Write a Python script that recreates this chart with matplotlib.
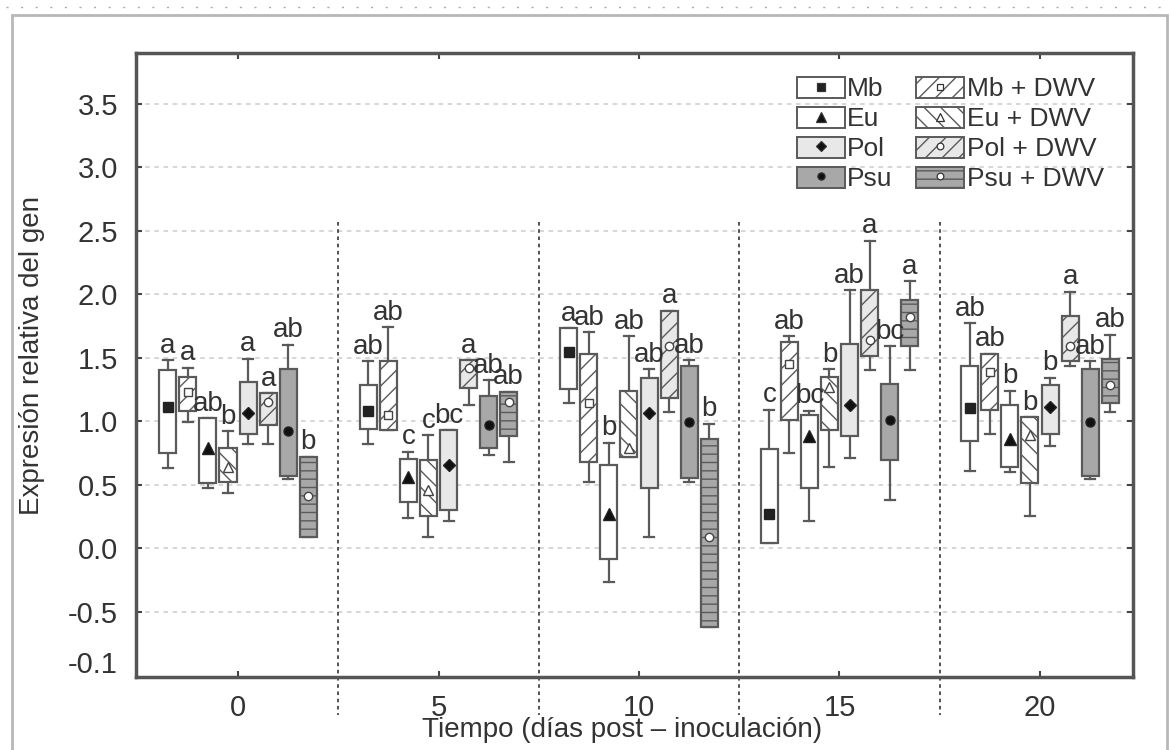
import matplotlib
matplotlib.use('Agg')
import matplotlib.pyplot as plt
from matplotlib.lines import Line2D
from matplotlib.patches import Rectangle
from matplotlib.legend_handler import HandlerTuple

plt.rcParams['font.family'] = ['Liberation Sans', 'DejaVu Sans']
plt.rcParams['hatch.linewidth'] = 1.0

# ---------------- data ----------------
days = ['0', '5', '10', '15', '20']
series = ['Mb', 'Mb + DWV', 'Eu', 'Eu + DWV', 'Pol', 'Pol + DWV', 'Psu', 'Psu + DWV']

# rows = series (order above), columns = days
whisker_high = [
    [1.48, 1.47, 1.73, 1.09, 1.77],
    [1.42, 1.74, 1.70, 1.67, 1.53],
    [1.02, 0.76, 0.83, 1.08, 1.24],
    [0.92, 0.89, 1.67, 1.41, 1.03],
    [1.49, 0.93, 1.41, 2.03, 1.34],
    [1.22, 1.48, 1.87, 2.42, 2.02],
    [1.60, 1.32, 1.48, 1.59, 1.47],
    [0.72, 1.23, 0.98, 2.10, 1.68],
]
box_high = [
    [1.40, 1.28, 1.73, 0.78, 1.43],
    [1.35, 1.47, 1.53, 1.62, 1.53],
    [1.02, 0.70, 0.65, 1.05, 1.13],
    [0.79, 0.69, 1.24, 1.35, 1.03],
    [1.31, 0.93, 1.34, 1.61, 1.28],
    [1.22, 1.48, 1.87, 2.03, 1.83],
    [1.41, 1.20, 1.43, 1.29, 1.41],
    [0.72, 1.23, 0.86, 1.95, 1.49],
]
box_low = [
    [0.75, 0.94, 1.25, 0.04, 0.84],
    [1.08, 0.93, 0.68, 1.01, 1.09],
    [0.51, 0.36, -0.09, 0.47, 0.64],
    [0.52, 0.25, 0.72, 0.93, 0.51],
    [0.90, 0.30, 0.47, 0.88, 0.90],
    [0.97, 1.26, 1.18, 1.51, 1.47],
    [0.57, 0.79, 0.55, 0.69, 0.57],
    [0.09, 0.88, -0.62, 1.59, 1.14],
]
whisker_low = [
    [0.63, 0.82, 1.14, 0.04, 0.61],
    [0.99, 0.93, 0.52, 0.75, 0.90],
    [0.47, 0.24, -0.27, 0.21, 0.60],
    [0.43, 0.09, 0.72, 0.64, 0.25],
    [0.82, 0.21, 0.09, 0.71, 0.80],
    [0.82, 1.13, 1.07, 1.40, 1.43],
    [0.54, 0.73, 0.52, 0.38, 0.54],
    [0.09, 0.68, -0.62, 1.40, 1.07],
]
center = [
    [1.11, 1.08, 1.54, 0.27, 1.10],
    [1.23, 1.05, 1.14, 1.45, 1.39],
    [0.79, 0.56, 0.27, 0.88, 0.86],
    [0.64, 0.46, 0.79, 1.27, 0.89],
    [1.06, 0.65, 1.06, 1.13, 1.11],
    [1.15, 1.42, 1.59, 1.64, 1.59],
    [0.92, 0.97, 0.99, 1.01, 0.99],
    [0.41, 1.15, 0.09, 1.82, 1.28],
]
letters = [
    ['a', 'ab', 'a', 'c', 'ab'],
    ['a', 'ab', 'ab', 'ab', 'ab'],
    ['ab', 'c', 'b', 'bc', 'b'],
    ['b', 'c', 'ab', 'b', 'b'],
    ['a', 'bc', 'ab', 'ab', 'b'],
    ['a', 'a', 'a', 'a', 'a'],
    ['ab', 'ab', 'ab', 'bc', 'ab'],
    ['b', 'ab', 'b', 'a', 'ab'],
]
ytick_values = [-0.9, -0.5, 0.0, 0.5, 1.0, 1.5, 2.0, 2.5, 3.0, 3.5]
ytick_labels = ['-0.1', '-0.5', '0.0', '0.5', '1.0', '1.5', '2.0', '2.5', '3.0', '3.5']

# ---------------- styles ----------------
EDGE = '#5a5a5a'
TXT = '#333333'
fills = ['white', 'white', 'white', 'white', '#e8e8e8', '#e8e8e8', '#a8a8a8', '#a8a8a8']
hatches = ['', '//', '', '\\\\', '', '//', '', '--']
markers = ['s', 's', '^', '^', 'D', 'o', 'o', 'o']
mfaces = ['#222222', 'white', '#111111', 'white', '#111111', 'white', '#111111', 'white']
msizes = [6.5, 6, 8.5, 7, 6.5, 6, 6.5, 6]

fig = plt.figure(figsize=(11.7, 7.5), dpi=100)
ax = fig.add_axes([0.1162, 0.0973, 0.8522, 0.832])

step = 0.1
for s in range(len(series)):
    off = (s - 3.5) * step
    pos = [d + off for d in range(len(days))]
    stats = []
    for d in range(len(days)):
        stats.append(dict(med=center[s][d], q1=box_low[s][d], q3=box_high[s][d],
                          whislo=whisker_low[s][d], whishi=whisker_high[s][d]))
    bp = ax.bxp(stats, positions=pos, widths=0.085, capwidths=0.05,
                patch_artist=True, showfliers=False,
                boxprops=dict(facecolor=fills[s], edgecolor=EDGE, linewidth=1.6,
                              hatch=hatches[s]),
                whiskerprops=dict(color=EDGE, linewidth=1.6),
                capprops=dict(color=EDGE, linewidth=1.6),
                medianprops=dict(linewidth=0))
    for m in bp['medians']:
        m.set_visible(False)
    for b in bp['boxes']:
        b.set_zorder(3)
    ax.plot(pos, center[s], linestyle='none', marker=markers[s], markersize=msizes[s],
            markerfacecolor=mfaces[s], markeredgecolor='#222222' if mfaces[s] != 'white' else '#444444',
            markeredgewidth=1.0, zorder=5)
    for d in range(len(days)):
        ax.annotate(letters[s][d], (pos[d], whisker_high[s][d]), xytext=(0, 1),
                    textcoords='offset points', ha='center', va='bottom',
                    fontsize=20, color=TXT, zorder=6)

# separators between days
ylo, yhi = -1.016, 3.898
sep_top = 2.57
for d in range(len(days) - 1):
    xs = d + 0.5
    ax.plot([xs, xs], [(sep_top - ylo) / (yhi - ylo), -0.061],
            transform=ax.get_xaxis_transform(), clip_on=False,
            color='#444444', linestyle=(0, (2, 2)), linewidth=1.3, zorder=2)

ax.set_xlim(-0.509, 4.464)
ax.set_ylim(ylo, yhi)
ax.set_xticks(range(len(days)))
ax.set_xticklabels(days)
ax.set_yticks(ytick_values)
ax.set_yticklabels(ytick_labels)
ax.tick_params(axis='both', direction='in', length=4, width=1.5, color='#444444',
               labelsize=21, labelcolor=TXT, top=True, right=True)
ax.tick_params(axis='y', pad=13)
ax.tick_params(axis='x', pad=12)
ax.yaxis.grid(True, linestyle=(0, (3, 3)), color='#cccccc', linewidth=1.1)
ax.set_axisbelow(True)
ax.get_ygridlines()[0].set_visible(False)
ax.yaxis.get_major_ticks()[0].tick1line.set_visible(False)
ax.yaxis.get_major_ticks()[0].tick2line.set_visible(False)
for sp in ax.spines.values():
    sp.set_color('#555555')
    sp.set_linewidth(2.5)

ax.set_ylabel('Expresión relativa del gen', fontsize=20, color=TXT)
ax.yaxis.set_label_coords(-0.091, 0.516)
ax.set_xlabel('Tiempo (días post – inoculación)', fontsize=20, color=TXT)
ax.xaxis.set_label_coords(0.488, -0.064)

# legend
order = [0, 2, 4, 6, 1, 3, 5, 7]
handles = []
labels = []
for s in order:
    p = Rectangle((0, 0), 1, 1, facecolor=fills[s], edgecolor=EDGE, linewidth=1.4, hatch=hatches[s])
    mk = Line2D([], [], linestyle='none', marker=markers[s], markersize=msizes[s] * 0.8,
                markerfacecolor=mfaces[s], markeredgecolor='#333333', markeredgewidth=0.9)
    handles.append((p, mk))
    labels.append(series[s])
leg = ax.legend(handles, labels, handler_map={tuple: HandlerTuple(ndivide=1)},
                ncol=2, loc='upper left', bbox_to_anchor=(0.663, 0.962),
                frameon=False, fontsize=19, handlelength=1.8, handleheight=0.85,
                handletextpad=0.1, labelspacing=0.2, columnspacing=0.9,
                borderpad=0, borderaxespad=0)
for t in leg.get_texts():
    t.set_color(TXT)

# outer frame and top dotted marks
fig.add_artist(Rectangle((12 / 1170, -0.01), 1155 / 1170, 1 - 15 / 750 + 0.01,
                         transform=fig.transFigure, fill=False, edgecolor='#b8b8b8',
                         linewidth=2.0))
fig.add_artist(Line2D([0.005, 0.995], [0.9907, 0.9907], transform=fig.transFigure,
                      color='#aaaaaa', linewidth=1.0, linestyle=(0, (1.5, 9))))

fig.savefig('out.png', dpi=100)
